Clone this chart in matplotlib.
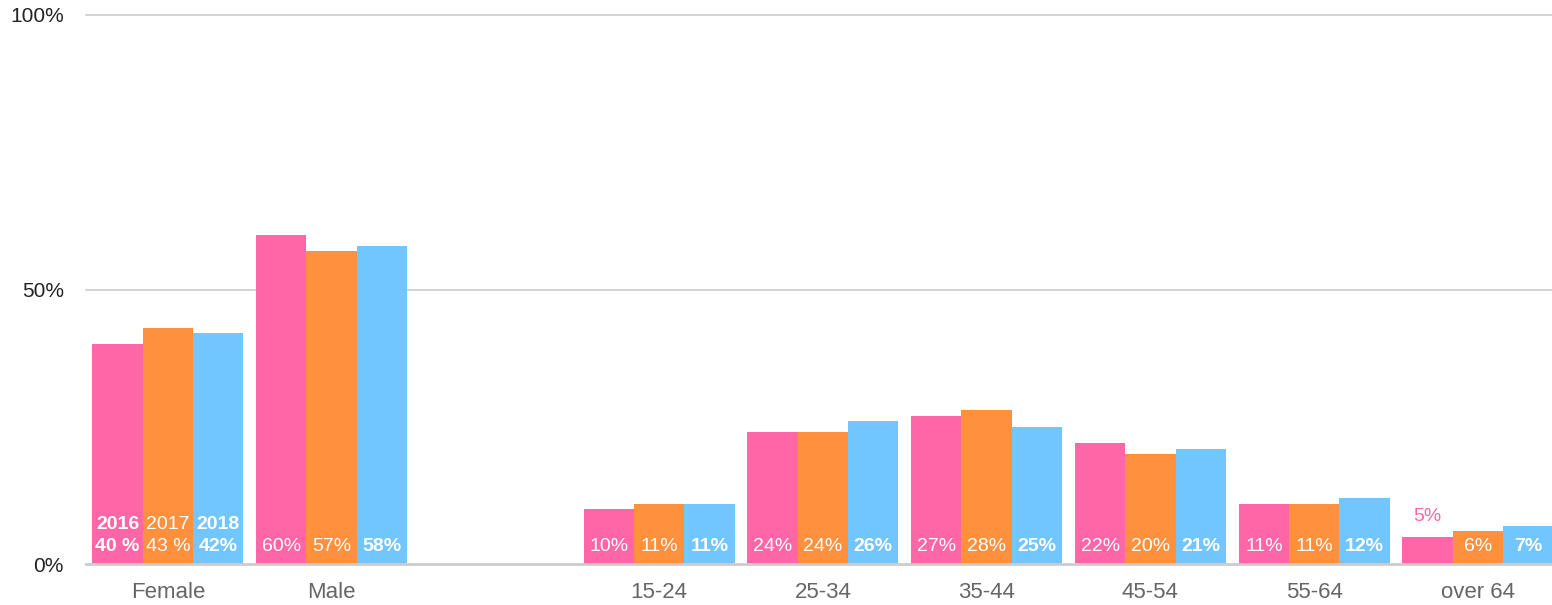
import matplotlib
matplotlib.use("Agg")
import matplotlib.pyplot as plt
import numpy as np

plt.rcParams['font.family'] = ['Liberation Sans', 'DejaVu Sans']

categories = ["Female", "Male", "", "15-24", "25-34", "35-44", "45-54", "55-64", "over 64"]
years = ["2016", "2017", "2018"]
v2016 = [40, 60, None, 10, 24, 27, 22, 11, 5]
v2017 = [43, 57, None, 11, 24, 28, 20, 11, 6]
v2018 = [42, 58, None, 11, 26, 25, 21, 12, 7]
lab2016 = ["2016\n40 %", "60%", "", "10%", "24%", "27%", "22%", "11%", "5%"]
lab2017 = ["2017\n43 %", "57%", "", "11%", "24%", "28%", "20%", "11%", "6%"]
lab2018 = ["2018\n42%", "58%", "", "11%", "26%", "25%", "21%", "12%", "7%"]
yticks = [0, 50, 100]
ytick_labels = ["0%", "50%", "100%"]

colors = ["#FF66A8", "#FF913E", "#72C6FF"]
bold_first = [True, False, True]   # whether first-category label is bold
bold_rest = [False, False, True]

fig = plt.figure(figsize=(15.52, 6.05), dpi=100)
ax = fig.add_axes([86/1552, 41/605, 1 - 86/1552, (564-15)/605])

n = len(categories)
x = np.arange(n)
w = 0.307
series = [v2016, v2017, v2018]
labels = [lab2016, lab2017, lab2018]
for i, (vals, labs) in enumerate(zip(series, labels)):
    xs = x + (i - 1) * w
    hv = [v if v is not None else 0 for v in vals]
    ax.bar(xs, hv, width=w, color=colors[i], linewidth=0, zorder=3)
    for j, (xx, v, lab) in enumerate(zip(xs, vals, labs)):
        if v is None:
            continue
        bold = bold_first[i] if j == 0 else bold_rest[i]
        if v < 6:
            ax.annotate(lab, (xx, v), xytext=(0, 11), textcoords="offset points",
                        ha="center", va="baseline", color=colors[i], fontsize=14,
                        fontweight="bold" if bold else "normal", zorder=4)
        else:
            ax.annotate(lab, (xx, 0), xytext=(0, 9.5), textcoords="offset points",
                        ha="center", va="baseline", color="white", fontsize=14,
                        fontweight="bold" if bold else "normal", linespacing=1.35,
                        zorder=4)

ax.set_xlim(-0.5, -0.5 + (1552 - 86) / 163.75)
ax.set_ylim(0, 100)
ax.set_yticks(yticks)
ax.set_yticklabels(ytick_labels)
ax.set_xticks(x)
ax.set_xticklabels(categories)
ax.tick_params(axis="x", length=0, pad=13, labelsize=16, labelcolor="#666666")
ax.tick_params(axis="y", length=0, pad=16, labelsize=15, labelcolor="#222222")
for s in ["top", "right", "left"]:
    ax.spines[s].set_visible(False)
ax.spines["bottom"].set_color("#CCCCCC")
ax.spines["bottom"].set_linewidth(2)
ax.spines["bottom"].set_zorder(5)
for yv in [50, 100]:
    ax.axhline(yv, color="#CCCCCC", linewidth=1.2, zorder=1, clip_on=False)

fig.savefig("out.png", dpi=100)
